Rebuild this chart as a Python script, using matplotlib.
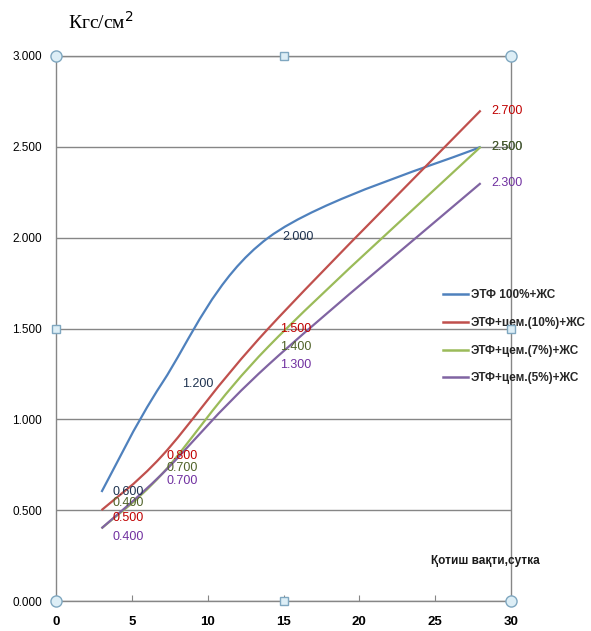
import numpy as np
import matplotlib
matplotlib.use("Agg")
import matplotlib.pyplot as plt
from matplotlib.path import Path
from matplotlib.patches import PathPatch

# Curing age, days
days = [3, 7, 14, 28]

# Strength, kgf/cm2
etf_100 = [0.6, 1.2, 2.0, 2.5]
etf_cem10 = [0.5, 0.8, 1.5, 2.7]
etf_cem7 = [0.4, 0.7, 1.4, 2.5]
etf_cem5 = [0.4, 0.7, 1.3, 2.3]

series_names = ["ЭТФ 100%+ЖС", "ЭТФ+цем.(10%)+ЖС", "ЭТФ+цем.(7%)+ЖС", "ЭТФ+цем.(5%)+ЖС"]
y_ticks = [0.0, 0.5, 1.0, 1.5, 2.0, 2.5, 3.0]
x_ticks = [0, 5, 10, 15, 20, 25, 30]

line_colors = ["#4F81BD", "#C0504D", "#9BBB59", "#8064A2"]
label_colors = ["#1F3350", "#C00000", "#4F6228", "#7030A0"]
sans = ["Liberation Sans", "DejaVu Sans"]

# label shifts in pixels (dx, dy) per point, dy positive = up
label_shift = [
    [(27, 0), (36, -1), (30, 1), (26, 0)],
    [(27, -8), (20, 0), (27, 0), (26, 0)],
    [(27, 25), (20, 6), (27, 0), (26, 0)],
    [(27, -9), (20, -7), (27, 0), (26, 0)],
]


def smooth_path(xs, ys):
    # bezier spline through the points, same style as office smoothed lines
    pts = np.column_stack([xs, ys]).astype(float)
    ext = np.vstack([pts[0], pts, pts[-1]])
    verts = [pts[0]]
    codes = [Path.MOVETO]
    for i in range(1, len(ext) - 2):
        p0, p1, p2, p3 = ext[i - 1], ext[i], ext[i + 1], ext[i + 2]
        c1 = p1 + (p2 - p0) / 6.0
        c2 = p2 - (p3 - p1) / 6.0
        verts += [c1, c2, p2]
        codes += [Path.CURVE4] * 3
    return Path(verts, codes)


fig = plt.figure(figsize=(5.91, 6.31), dpi=100)
ax = fig.add_axes([56 / 591, 1 - 601 / 631, 455 / 591, 545 / 631])
ax.set_xlim(0, 30)
ax.set_ylim(0, 3)

for y in y_ticks:
    ax.axhline(y, color="#868686", lw=1.0, zorder=1)
for side in ["left", "right", "top", "bottom"]:
    ax.spines[side].set_color("#868686")
    ax.spines[side].set_linewidth(1.0)

all_series = [etf_100, etf_cem10, etf_cem7, etf_cem5]
for k, vals in enumerate(all_series):
    patch = PathPatch(smooth_path(days, vals), facecolor="none",
                      edgecolor=line_colors[k], lw=1.6, zorder=3)
    ax.add_patch(patch)
    ax.plot([], [], color=line_colors[k], lw=1.8, label=series_names[k])
    for j, (d, v) in enumerate(zip(days, vals)):
        dx, dy = label_shift[k][j]
        ax.annotate(f"{v:.3f}", (d, v), xytext=(dx * 0.72, dy * 0.72),
                    textcoords="offset points", ha="center", va="center",
                    fontsize=9, color=label_colors[k], zorder=5, family=sans)

ax.set_xticks(x_ticks)
ax.set_xticklabels([str(t) for t in x_ticks], fontsize=9.5, fontweight="bold",
                   family=sans)
ax.set_yticks(y_ticks)
ax.set_yticklabels([f"{t:.3f}" for t in y_ticks], fontsize=8.5, family=sans)
ax.tick_params(axis="x", direction="in", length=4, color="#868686", pad=11)
ax.tick_params(axis="y", length=0, pad=10)

# selection handles around the chart area
handle_style = dict(markerfacecolor="#DDEEF6", markeredgecolor="#7FA7C0",
                    clip_on=False, zorder=6, linestyle="none")
ax.plot([0, 30, 0, 30], [0, 0, 3, 3], marker="o", markersize=8, **handle_style)
ax.plot([15, 15, 0, 30], [0, 3, 1.5, 1.5], marker="s", markersize=6, **handle_style)

leg = ax.legend(loc="upper left", bbox_to_anchor=(0.85, 0.572), frameon=False,
                handlelength=2.1, handletextpad=0.3, labelspacing=1.33,
                borderaxespad=0.0, borderpad=0.0,
                prop={"family": sans, "weight": "bold", "size": 8.5})
for t in leg.get_texts():
    t.set_color("#262626")

ax.text(28.3, 0.22, "Қотиш вақти,сутка", fontsize=8.5, fontweight="bold",
        color="#1A1A1A", ha="center", va="center", family=sans)

fig.text(68 / 591, 1 - 22 / 631, "Кгс/см$^2$", fontsize=14,
         family=["Liberation Serif", "DejaVu Serif"], va="center", ha="left")

fig.savefig("out.png", dpi=100)
